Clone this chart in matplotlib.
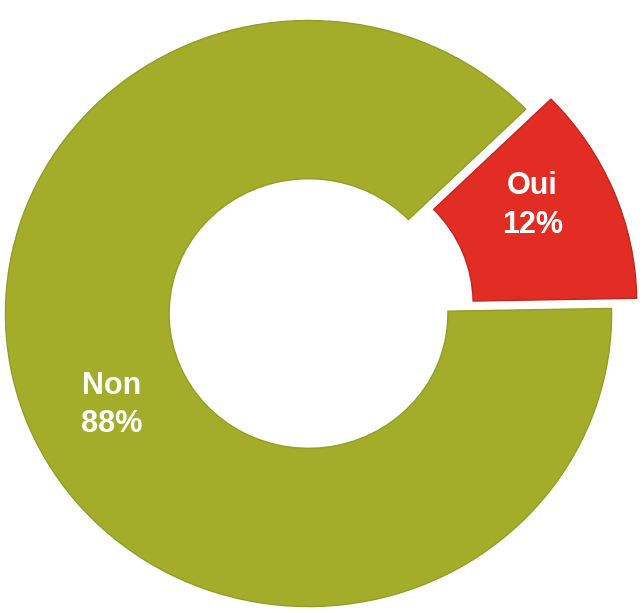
import numpy as np
import matplotlib
matplotlib.use('Agg')
import matplotlib.pyplot as plt

# données du graphique (réponses Oui / Non)
categories = ['Oui', 'Non']
values = [12, 88]
colors = ['#e12d23', '#a4ad2a']
edge_colors = ['#c0261d', '#939c24']

fig = plt.figure(figsize=(6.44, 6.13), dpi=100)
ax = fig.add_axes([0, 0, 1, 1])

labels = [f"{c}\n{v}%" for c, v in zip(categories, values)]
wedges, texts = ax.pie(
    values,
    labels=labels,
    colors=colors,
    explode=[0.09, 0],
    startangle=1,
    counterclock=True,
    labeldistance=0.73,
    wedgeprops={'width': 0.54, 'linewidth': 1.0},
    textprops={'color': 'white', 'fontsize': 22, 'fontweight': 'bold',
               'family': 'Liberation Sans', 'ha': 'center', 'va': 'center',
               'linespacing': 1.38},
)
for w, ec in zip(wedges, edge_colors):
    w.set_edgecolor(ec)

# position des étiquettes (angle, rayon) depuis le centre de chaque part
label_pos = [(27, 0.735), (205.7, 0.72)]
for t, w, (a, r) in zip(texts, wedges, label_pos):
    cx, cy = w.center
    t.set_position((cx + r * np.cos(np.deg2rad(a)), cy + r * np.sin(np.deg2rad(a))))

# échelle légèrement plus large que haute, comme l'original
ax.set_aspect('auto')
ax.set_xlim(-1.018, 1.107)
ax.set_ylim(-1.022, 1.070)
ax.axis('off')

fig.savefig('out.png', dpi=100)
plt.close(fig)
